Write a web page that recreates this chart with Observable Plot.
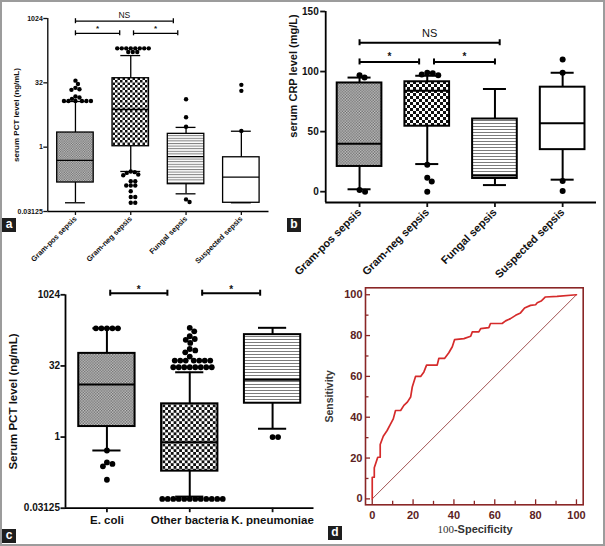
<!DOCTYPE html>
<html><head><meta charset="utf-8">
<script src="https://cdn.jsdelivr.net/npm/d3@7"></script>
<script src="https://cdn.jsdelivr.net/npm/@observablehq/plot@0.6"></script>
<style>
html,body{margin:0;padding:0;background:#fff;}
#fig{position:relative;width:605px;height:546px;overflow:hidden;font-family:"Liberation Sans",Arial,sans-serif;background:#fff;}
#border{position:absolute;left:0;top:0;width:605px;height:546px;box-sizing:border-box;border:2px solid #9c9c9c;pointer-events:none;}
.panel{position:absolute;}
.tag{position:absolute;width:14px;height:14px;background:#1e1e1e;color:#fff;font:bold 12px "Liberation Sans",Arial,sans-serif;line-height:13px;text-align:center;}
#spec{position:absolute;left:415px;top:523px;width:120px;text-align:center;font-size:11px;color:#333;white-space:nowrap;}
</style></head><body>
<div id="fig"><div id="border"></div></div>
<script>
// ---------- Panel a: serum PCT by sepsis type ----------
const sepsisCats = ["Gram-pos sepsis", "Gram-neg sepsis", "Fungal sepsis", "Suspected sepsis"];
const pctLow  = [0.05, 0.27, 0.081, 0.05];
const pctQ1   = [0.149, 1.05, 0.136, 0.05];
const pctMed  = [0.49, 7.6, 0.6, 0.2];
const pctQ3   = [2.2, 41, 2.05, 0.58];
const pctHigh = [11.7, 139, 2.9, 2.36];
const pctOutGramPos = [36, 30, 24.4, 22.6, 21.9, 15.3, 14.5, 13.5, 12, 12, 12, 12, 12, 12];
const pctOutGramNeg = [205, 205, 205, 205, 205, 205, 205, 205, 168, 168, 168,
  0.27, 0.26, 0.25, 0.23, 0.22, 0.16, 0.16, 0.127, 0.127, 0.127, 0.093, 0.068, 0.068, 0.05, 0.05];
const pctOutFungal = [13.2, 5, 3.0, 0.06, 0.052];
const pctOutSuspected = [28.7, 20.8, 2.4];
const pctTicks = [0.03125, 1, 32, 1024];
const pctBrackets = [
  {from: 0, to: 0.8, at: 461, text: "*"},
  {from: 1.05, to: 1.85, at: 461, text: "*"},
  {from: 0, to: 1.77, at: 885, text: "NS"}
];

// ---------- Panel b: serum CRP by sepsis type ----------
const crpLow  = [2, 23, 5.5, 10];
const crpQ1   = [21, 54.5, 11, 35];
const crpMed  = [40, 84, 13.5, 57];
const crpQ3   = [90.5, 91.5, 60.5, 87];
const crpHigh = [95, 96.5, 85.5, 99];
const crpOutGramPos = [97, 95, 1.5, 0];
const crpOutGramNeg = [99, 98.5, 97.5, 97, 22.5, 11.5, 8.5, 0];
const crpOutFungal = [];
const crpOutSuspected = [110, 99, 9, 0.5];
const crpTicks = [0, 50, 100, 150];
const crpBrackets = [
  {from: 0, to: 0.88, at: 108, text: "*"},
  {from: 1.1, to: 2.0, at: 108, text: "*"},
  {from: 0, to: 2.07, at: 124, text: "NS"}
];

// ---------- Panel c: serum PCT by organism ----------
const bugCats = ["E. coli", "Other bacteria", "K. pneumoniae"];
const bugLow  = [0.52, 0.055, 1.5];
const bugQ1   = [1.67, 0.19, 5.2];
const bugMed  = [12.9, 0.78, 16.3];
const bugQ3   = [59, 5.05, 147];
const bugHigh = [200, 23.5, 205];
const bugOutEcoli = [200, 200, 200, 200, 200, 0.52, 0.29, 0.27, 0.24, 0.125];
const bugOutOther = [205, 173, 136, 119, 114, 98, 73, 68, 62, 50.6,
  41.6, 41.6, 41.6, 41.6, 41.6, 41.6, 41.6, 30, 30, 30, 30, 30, 30, 30, 30,
  0.049, 0.049, 0.049, 0.049, 0.049, 0.049, 0.049, 0.049, 0.049, 0.049, 0.049, 0.049];
const bugOutKpn = [1.0, 1.0];
const bugBrackets = [
  {from: 0.04, to: 0.73, at: 1106, text: "*"},
  {from: 1.15, to: 1.85, at: 1106, text: "*"}
];

// ---------- Panel d: ROC ----------
const rocFpr = [0,0,1,1,2.7,3.9,3.9,5.4,7.3,9,10.3,11.4,13.9,15.5,17.2,18.8,19.6,21.2,23.7,25.3,
  26.6,31.8,32.6,35.4,37.5,39.2,40.3,44.9,48.2,49,52.2,53.1,57.1,57.9,63.6,65.3,67.7,70.2,72.6,74.6,
  77.5,80,80.8,82.7,84.8,90.5,100];
const rocTpr = [0,10.6,10.6,15.2,20.4,20.4,26.6,30.7,33.5,36.7,39.2,43.3,43.3,45.8,47.4,49.9,54.8,60,60,62.2,
  65.5,65.5,68.8,68.8,71.6,74.5,78,78.5,79.7,81.8,81.8,83.4,83.9,85.9,85.9,87.2,88.3,89.9,91.1,93.5,
  94.8,95.1,96.1,96.9,98.9,99.2,100];
const rocDiag = [0, 100];
const rocMajor = [0, 20, 40, 60, 80, 100];
const rocMinor = [10, 30, 50, 70, 90];

// ---------- helpers ----------
const fig = document.getElementById("fig");
const FONT = "'Liberation Sans', Arial, sans-serif";

function addPatterns(svg, prefix, s) {
  const defs = d3.select(svg).insert("defs", ":first-child");
  let p = defs.append("pattern").attr("id", prefix + "gray").attr("patternUnits", "userSpaceOnUse")
    .attr("width", 2 * s.g).attr("height", 2 * s.g);
  p.append("rect").attr("width", 2 * s.g).attr("height", 2 * s.g).attr("fill", "#c6c6c6");
  p.append("rect").attr("width", s.g).attr("height", s.g).attr("fill", "#6a6a6a");
  p.append("rect").attr("x", s.g).attr("y", s.g).attr("width", s.g).attr("height", s.g).attr("fill", "#6a6a6a");
  p = defs.append("pattern").attr("id", prefix + "bw").attr("patternUnits", "userSpaceOnUse")
    .attr("width", 2 * s.c).attr("height", 2 * s.c);
  p.append("rect").attr("width", 2 * s.c).attr("height", 2 * s.c).attr("fill", "#fff");
  p.append("rect").attr("width", s.c).attr("height", s.c).attr("fill", "#111");
  p.append("rect").attr("x", s.c).attr("y", s.c).attr("width", s.c).attr("height", s.c).attr("fill", "#111");
  p = defs.append("pattern").attr("id", prefix + "stripe").attr("patternUnits", "userSpaceOnUse")
    .attr("width", 6).attr("height", s.st);
  p.append("rect").attr("width", 6).attr("height", s.st).attr("fill", "#fff");
  p.append("rect").attr("width", 6).attr("height", 1).attr("fill", "#7c7c7c");
}

function boxPanel(cfg) {
  const n = cfg.cats.length;
  const xdom = [-0.5, n - 0.5];
  const xs = d3.scaleLinear(xdom, [cfg.ml, cfg.width - cfg.mr]);
  const ys = (cfg.log ? d3.scaleLog().base(2) : d3.scaleLinear()).domain(cfg.ydom).range([cfg.height - cfg.mb, cfg.mt]);
  const ppx = xs(1) - xs(0);
  const stats = cfg.cats.map((c, i) => ({i, low: cfg.low[i], q1: cfg.q1[i], med: cfg.med[i], q3: cfg.q3[i], high: cfg.high[i]}));
  // simple dodge of outliers around each category centre
  const D = 2 * cfg.r * 0.92;
  const dots = [];
  cfg.out.forEach((vals, i) => {
    const placed = [];
    [...vals].sort((a, b) => b - a).forEach(v => {
      const py = ys(v);
      let off = 0;
      for (let k = 0; k < 600; k++) {
        const c = k === 0 ? 0 : (k % 2 ? 1 : -1) * Math.ceil(k / 2) * 0.5;
        if (placed.every(p => (p.x - c) ** 2 + (p.y - py) ** 2 >= D * D)) { off = c; break; }
      }
      placed.push({x: off, y: py});
      dots.push({x: i + off / ppx, v});
    });
  });
  const marks = [];
  stats.forEach(s => marks.push(Plot.rect([s], {
    x1: d => d.i - cfg.half, x2: d => d.i + cfg.half, y1: "q1", y2: "q3",
    fill: cfg.fills[s.i], stroke: "black", strokeWidth: cfg.sw
  })));
  marks.push(Plot.ruleY(stats, {x1: d => d.i - cfg.half, x2: d => d.i + cfg.half, y: "med", stroke: "black", strokeWidth: cfg.sw}));
  marks.push(Plot.ruleX(stats, {x: "i", y1: "low", y2: "q1", stroke: "black", strokeWidth: cfg.sw}));
  marks.push(Plot.ruleX(stats, {x: "i", y1: "q3", y2: "high", stroke: "black", strokeWidth: cfg.sw}));
  marks.push(Plot.ruleY(stats, {x1: d => d.i - cfg.cap, x2: d => d.i + cfg.cap, y: "low", stroke: "black", strokeWidth: cfg.sw}));
  marks.push(Plot.ruleY(stats, {x1: d => d.i - cfg.cap, x2: d => d.i + cfg.cap, y: "high", stroke: "black", strokeWidth: cfg.sw}));
  marks.push(Plot.dot(dots, {x: "x", y: "v", r: cfg.r, fill: "black", stroke: "none"}));
  // axes
  marks.push(Plot.ruleX([xdom[0]], {stroke: "black", strokeWidth: cfg.aw}));
  marks.push(Plot.ruleY([cfg.ydom[0]], {stroke: "black", strokeWidth: cfg.aw}));
  marks.push(Plot.axisY({ticks: cfg.yticks, tickFormat: d => String(d), tickSize: cfg.tick, tickPadding: cfg.ypad,
    fontSize: cfg.yfs, fontWeight: "bold", strokeWidth: cfg.aw, label: null}));
  marks.push(Plot.axisX({ticks: d3.range(n), tickFormat: i => cfg.cats[i], tickSize: cfg.tick, tickPadding: cfg.xpad,
    tickRotate: cfg.rot, fontSize: cfg.xfs, fontWeight: "bold", strokeWidth: cfg.aw, label: null}));
  marks.push(Plot.text([cfg.ylabel], {frameAnchor: "left", textAnchor: "middle", dx: cfg.ylDx, dy: cfg.ylDy, rotate: -90,
    fontSize: cfg.ylfs, fontWeight: "bold"}));
  // significance brackets
  const ends = cfg.brackets.flatMap(b => [{x: b.from, at: b.at}, {x: b.to, at: b.at}]);
  marks.push(Plot.ruleY(cfg.brackets, {x1: "from", x2: "to", y: "at", stroke: "black", strokeWidth: cfg.bw}));
  marks.push(Plot.ruleX(ends, {x: "x", y1: "at", y2: "at", insetTop: -cfg.bt, insetBottom: -cfg.bt, stroke: "black", strokeWidth: cfg.bw}));
  marks.push(Plot.text(cfg.brackets.filter(b => b.text === "*"), {x: d => (d.from + d.to) / 2, y: "at", text: "text",
    dy: cfg.starDy, fontSize: cfg.starFs, fontWeight: "bold"}));
  marks.push(Plot.text(cfg.brackets.filter(b => b.text !== "*"), {x: d => (d.from + d.to) / 2, y: "at", text: "text",
    dy: cfg.nsDy, fontSize: cfg.nsFs, fontWeight: "normal"}));

  const svg = Plot.plot({
    width: cfg.width, height: cfg.height,
    marginLeft: cfg.ml, marginRight: cfg.mr, marginTop: cfg.mt, marginBottom: cfg.mb,
    x: {domain: xdom, label: null},
    y: cfg.log ? {type: "log", base: 2, domain: cfg.ydom, label: null} : {domain: cfg.ydom, label: null},
    style: {fontFamily: FONT, background: "transparent", overflow: "visible", color: "#111"},
    marks
  });
  addPatterns(svg, cfg.id + "-", cfg.pat);
  svg.classList.add("panel");
  svg.style.left = cfg.left + "px";
  svg.style.top = cfg.top + "px";
  fig.appendChild(svg);
}

// Panel a
boxPanel({
  id: "pa", left: 0, top: 0, width: 290, height: 270, ml: 47.3, mr: 21.5, mt: 18, mb: 59,
  cats: sepsisCats, low: pctLow, q1: pctQ1, med: pctMed, q3: pctQ3, high: pctHigh,
  out: [pctOutGramPos, pctOutGramNeg, pctOutFungal, pctOutSuspected],
  ydom: [0.03125, 1024], log: true, yticks: pctTicks,
  fills: ["url(#pa-gray)", "url(#pa-bw)", "url(#pa-stripe)", "white"], pat: {g: 1.2, c: 2.5, st: 2.6},
  r: 2.2, sw: 1.3, half: 0.33, cap: 0.18, aw: 1.3, tick: 4, ypad: 1, xpad: 2, rot: -45,
  yfs: 7, xfs: 7.5, ylabel: "serum PCT level (ng/mL)", ylfs: 8, ylDx: -31, ylDy: 0,
  brackets: pctBrackets, bw: 1.3, bt: 2.5, starDy: -5, starFs: 8, nsDy: -6, nsFs: 8.5
});

// Panel b
boxPanel({
  id: "pb", left: 290, top: 0, width: 315, height: 270, ml: 35.2, mr: 9, mt: 11, mb: 68,
  cats: sepsisCats, low: crpLow, q1: crpQ1, med: crpMed, q3: crpQ3, high: crpHigh,
  out: [crpOutGramPos, crpOutGramNeg, crpOutFungal, crpOutSuspected],
  ydom: [-9, 150], log: false, yticks: crpTicks,
  fills: ["url(#pb-gray)", "url(#pb-bw)", "url(#pb-stripe)", "white"], pat: {g: 1.4, c: 3, st: 3},
  r: 3, sw: 2, half: 0.33, cap: 0.17, aw: 1.8, tick: 5, ypad: 2, xpad: 3, rot: -45,
  yfs: 10, xfs: 11, ylabel: "serum CRP level (mg/L)", ylfs: 11, ylDx: -32, ylDy: -31,
  brackets: crpBrackets, bw: 2, bt: 3, starDy: -5, starFs: 10, nsDy: -9, nsFs: 11
});

// Panel c
boxPanel({
  id: "pc", left: 0, top: 270, width: 320, height: 276, ml: 65, mr: 6.5, mt: 24.3, mb: 38.3,
  cats: bugCats, low: bugLow, q1: bugQ1, med: bugMed, q3: bugQ3, high: bugHigh,
  out: [bugOutEcoli, bugOutOther, bugOutKpn],
  ydom: [0.03125, 1024], log: true, yticks: pctTicks,
  fills: ["url(#pc-gray)", "url(#pc-bw)", "url(#pc-stripe)"], pat: {g: 1.4, c: 2.8, st: 3},
  r: 2.9, sw: 2, half: 0.34, cap: 0.17, aw: 1.8, tick: 4.5, ypad: 1, xpad: 3, rot: 0,
  yfs: 10, xfs: 11.5, ylabel: "Serum PCT level (ng/mL)", ylfs: 11.5, ylDx: -52, ylDy: 0,
  brackets: bugBrackets, bw: 2, bt: 3, starDy: -3, starFs: 10, nsDy: -8, nsFs: 11
});

// Panel d
{
  const maroon = "#8a2626";
  const rx = [-3.3, 103.3], ry = [-2.9, 103.4];
  const svg = Plot.plot({
    width: 305, height: 276, marginLeft: 65, marginRight: 22.3, marginTop: 17.3, marginBottom: 41.7,
    x: {domain: rx, label: null}, y: {domain: ry, label: null},
    style: {fontFamily: FONT, background: "transparent", overflow: "visible"},
    marks: [
      Plot.line(rocDiag, {x: d => d, y: d => d, stroke: maroon, strokeWidth: 0.8}),
      Plot.line(d3.range(rocFpr.length), {x: i => rocFpr[i], y: i => rocTpr[i], stroke: "#d52b2b", strokeWidth: 1.7}),
      Plot.frame({stroke: maroon, strokeWidth: 1.6}),
      Plot.ruleX(rocMajor, {x: d => d, y1: () => ry[0], y2: () => ry[0], insetTop: 0, insetBottom: 5, stroke: maroon, strokeWidth: 1.3}),
      Plot.ruleX(rocMinor, {x: d => d, y1: () => ry[0], y2: () => ry[0], insetTop: 0, insetBottom: 3.5, stroke: maroon, strokeWidth: 1.3}),
      Plot.ruleY(rocMajor, {y: d => d, x1: () => rx[0], x2: () => rx[0], insetLeft: 0, insetRight: -5, stroke: maroon, strokeWidth: 1.3}),
      Plot.ruleY(rocMinor, {y: d => d, x1: () => rx[0], x2: () => rx[0], insetLeft: 0, insetRight: -3.5, stroke: maroon, strokeWidth: 1.3}),
      Plot.axisX({ticks: rocMajor, tickSize: 0, tickPadding: 6, fontSize: 11, fontWeight: "bold", color: "#5c2222", label: null}),
      Plot.axisY({ticks: rocMajor, tickSize: 0, tickPadding: 3, fontSize: 11, fontWeight: "bold", color: "#5c2222", label: null}),
      Plot.text(["Sensitivity"], {frameAnchor: "left", textAnchor: "middle", dx: -36, rotate: -90, fontSize: 10.5, fontWeight: "bold", fill: "#3a3a3a"})
    ]
  });
  svg.classList.add("panel");
  svg.style.left = "300px";
  svg.style.top = "270px";
  fig.appendChild(svg);
}

// x title of panel d (mixed fonts) and panel tags
const spec = document.createElement("div");
spec.id = "spec";
spec.innerHTML = '<span style="font-family:\'Liberation Serif\',serif">100</span><span style="font-weight:bold">-Specificity</span>';
fig.appendChild(spec);
[["a", 2, 218], ["b", 287, 218], ["c", 2, 529], ["d", 328, 526]].forEach(([t, l, tp]) => {
  const el = document.createElement("div");
  el.className = "tag";
  el.textContent = t;
  el.style.left = l + "px";
  el.style.top = tp + "px";
  fig.appendChild(el);
});
fig.appendChild(document.getElementById("border"));
</script>
</body></html>
